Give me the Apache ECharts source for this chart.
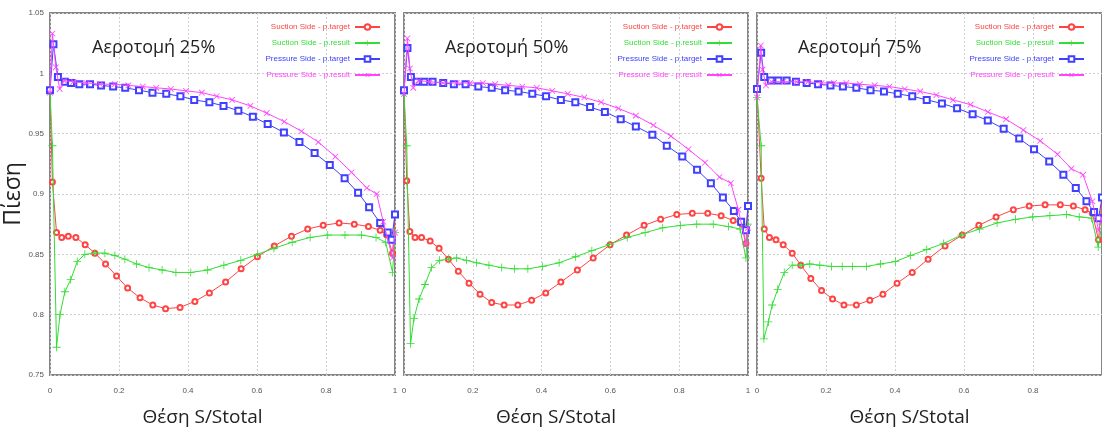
<!DOCTYPE html>
<html>
<head>
<meta charset="utf-8">
<script src="https://cdn.jsdelivr.net/npm/echarts@6/dist/echarts.min.js"></script>
<style>
  html, body { margin: 0; padding: 0; background: #fff; }
  #main { width: 1102px; height: 432px; }
</style>
</head>
<body>
<div id="main"></div>
<script>
    // labels
    var seriesNames = ['Suction Side - p.target', 'Suction Side - p.result', 'Pressure Side - p.target', 'Pressure Side - p.result'];
    var panelTitles = ['Αεροτομή 25%', 'Αεροτομή 50%', 'Αεροτομή 75%'];
    var xTicks = [0, 0.2, 0.4, 0.6, 0.8, 1];
    var yTicks = [0.75, 0.8, 0.85, 0.9, 0.95, 1, 1.05];

    // Αεροτομή 25%  [S/Stotal, πίεση]
    var suctionTarget25 = [[0,0.986],[0.007,0.910],[0.019,0.868],[0.034,0.864],[0.053,0.865],[0.075,0.864],[0.102,0.858],[0.130,0.851],[0.161,0.842],[0.193,0.832],[0.225,0.822],[0.261,0.814],[0.298,0.808],[0.335,0.805],[0.377,0.806],[0.420,0.811],[0.462,0.818],[0.509,0.827],[0.554,0.838],[0.601,0.848],[0.650,0.857],[0.700,0.865],[0.747,0.871],[0.792,0.874],[0.838,0.876],[0.882,0.875],[0.923,0.873],[0.957,0.870],[0.976,0.866],[0.993,0.851],[1,0.883]];
    var suctionResult25 = [[0,0.984],[0.007,0.940],[0.019,0.773],[0.029,0.800],[0.043,0.819],[0.060,0.829],[0.079,0.844],[0.101,0.850],[0.130,0.851],[0.159,0.851],[0.188,0.849],[0.217,0.846],[0.251,0.842],[0.287,0.839],[0.325,0.837],[0.365,0.835],[0.408,0.835],[0.457,0.837],[0.504,0.841],[0.553,0.845],[0.601,0.850],[0.649,0.855],[0.702,0.860],[0.754,0.864],[0.805,0.866],[0.855,0.866],[0.903,0.866],[0.945,0.864],[0.973,0.860],[0.993,0.835],[1,0.868]];
    var pressureTarget25 = [[0,0.986],[0.010,1.024],[0.023,0.997],[0.043,0.993],[0.061,0.992],[0.085,0.991],[0.116,0.991],[0.148,0.990],[0.183,0.989],[0.218,0.988],[0.258,0.986],[0.297,0.984],[0.337,0.983],[0.378,0.981],[0.418,0.978],[0.462,0.976],[0.503,0.973],[0.546,0.969],[0.588,0.964],[0.631,0.958],[0.678,0.951],[0.723,0.943],[0.767,0.934],[0.811,0.924],[0.854,0.913],[0.893,0.901],[0.925,0.889],[0.957,0.876],[0.979,0.868],[0.990,0.862],[1,0.883]];
    var pressureResult25 = [[0,0.984],[0.007,1.033],[0.017,1.005],[0.028,0.987],[0.041,0.994],[0.068,0.993],[0.106,0.992],[0.145,0.991],[0.188,0.991],[0.227,0.990],[0.269,0.989],[0.308,0.988],[0.350,0.987],[0.394,0.9855],[0.440,0.984],[0.483,0.981],[0.528,0.978],[0.581,0.973],[0.628,0.967],[0.679,0.960],[0.729,0.952],[0.778,0.943],[0.827,0.931],[0.874,0.918],[0.918,0.905],[0.947,0.900],[0.966,0.877],[0.993,0.847],[1,0.868]];

    // Αεροτομή 50%
    var suctionTarget50 = [[0,0.986],[0.008,0.911],[0.017,0.869],[0.032,0.864],[0.051,0.864],[0.076,0.861],[0.102,0.855],[0.129,0.846],[0.158,0.836],[0.189,0.826],[0.221,0.817],[0.255,0.810],[0.291,0.808],[0.331,0.808],[0.371,0.812],[0.412,0.818],[0.456,0.827],[0.504,0.837],[0.550,0.847],[0.599,0.858],[0.647,0.866],[0.698,0.874],[0.746,0.879],[0.793,0.883],[0.838,0.884],[0.883,0.884],[0.922,0.882],[0.957,0.878],[0.982,0.875],[0.994,0.859],[1,0.890]];
    var suctionResult50 = [[0,0.983],[0.008,0.940],[0.019,0.776],[0.029,0.797],[0.044,0.813],[0.061,0.825],[0.080,0.839],[0.103,0.845],[0.129,0.846],[0.153,0.847],[0.182,0.845],[0.211,0.843],[0.247,0.841],[0.284,0.839],[0.321,0.838],[0.360,0.838],[0.403,0.840],[0.451,0.843],[0.499,0.848],[0.546,0.853],[0.597,0.858],[0.649,0.864],[0.701,0.868],[0.752,0.872],[0.804,0.874],[0.851,0.875],[0.899,0.875],[0.943,0.873],[0.977,0.871],[0.994,0.847],[1,0.875]];
    var pressureTarget50 = [[0,0.986],[0.010,1.021],[0.020,0.997],[0.037,0.993],[0.059,0.993],[0.083,0.993],[0.114,0.992],[0.145,0.991],[0.179,0.991],[0.216,0.989],[0.255,0.988],[0.294,0.986],[0.333,0.985],[0.373,0.983],[0.413,0.981],[0.456,0.978],[0.498,0.976],[0.541,0.972],[0.584,0.968],[0.630,0.962],[0.674,0.956],[0.722,0.949],[0.764,0.940],[0.809,0.931],[0.852,0.920],[0.892,0.909],[0.927,0.897],[0.959,0.886],[0.980,0.877],[0.994,0.870],[1,0.890]];
    var pressureResult50 = [[0,0.983],[0.010,1.029],[0.017,1.004],[0.027,0.988],[0.042,0.994],[0.076,0.993],[0.114,0.992],[0.153,0.992],[0.192,0.992],[0.229,0.992],[0.265,0.991],[0.303,0.990],[0.344,0.989],[0.386,0.988],[0.431,0.9855],[0.476,0.983],[0.524,0.980],[0.573,0.976],[0.623,0.971],[0.674,0.965],[0.725,0.957],[0.776,0.948],[0.827,0.937],[0.875,0.926],[0.917,0.914],[0.950,0.909],[0.972,0.887],[0.994,0.858],[1,0.872]];

    // Αεροτομή 75%
    var suctionTarget75 = [[0,0.987],[0.012,0.913],[0.021,0.871],[0.036,0.864],[0.055,0.862],[0.076,0.858],[0.102,0.851],[0.127,0.841],[0.156,0.830],[0.187,0.820],[0.219,0.813],[0.252,0.808],[0.288,0.808],[0.327,0.812],[0.365,0.817],[0.406,0.826],[0.450,0.835],[0.496,0.846],[0.545,0.857],[0.595,0.866],[0.643,0.874],[0.693,0.881],[0.743,0.887],[0.789,0.890],[0.835,0.891],[0.879,0.891],[0.917,0.890],[0.951,0.887],[0.972,0.884],[0.990,0.862],[1,0.897]];
    var suctionResult75 = [[0,0.980],[0.012,0.940],[0.020,0.780],[0.033,0.794],[0.044,0.808],[0.060,0.821],[0.079,0.835],[0.102,0.841],[0.127,0.841],[0.153,0.842],[0.182,0.841],[0.216,0.840],[0.247,0.840],[0.277,0.840],[0.317,0.840],[0.358,0.842],[0.401,0.844],[0.445,0.849],[0.492,0.854],[0.541,0.859],[0.593,0.866],[0.645,0.871],[0.696,0.876],[0.749,0.879],[0.799,0.881],[0.849,0.882],[0.897,0.883],[0.934,0.881],[0.970,0.880],[0.989,0.856],[1,0.875]];
    var pressureTarget75 = [[0,0.987],[0.012,1.017],[0.021,0.997],[0.040,0.994],[0.062,0.994],[0.086,0.994],[0.113,0.993],[0.144,0.992],[0.177,0.991],[0.213,0.990],[0.249,0.989],[0.288,0.988],[0.329,0.986],[0.368,0.985],[0.408,0.983],[0.450,0.981],[0.492,0.978],[0.536,0.975],[0.580,0.971],[0.625,0.966],[0.669,0.961],[0.715,0.954],[0.760,0.946],[0.803,0.937],[0.847,0.927],[0.888,0.916],[0.924,0.905],[0.955,0.894],[0.977,0.885],[0.990,0.880],[1,0.897]];
    var pressureResult75 = [[0,0.980],[0.011,1.023],[0.016,1.003],[0.026,0.990],[0.042,0.993],[0.076,0.993],[0.115,0.993],[0.148,0.993],[0.187,0.992],[0.223,0.992],[0.259,0.992],[0.298,0.991],[0.341,0.990],[0.384,0.989],[0.428,0.987],[0.473,0.985],[0.520,0.982],[0.568,0.978],[0.619,0.974],[0.669,0.968],[0.722,0.962],[0.772,0.953],[0.821,0.944],[0.871,0.933],[0.911,0.921],[0.945,0.916],[0.972,0.894],[0.990,0.870],[1,0.880]];

    var panelData = [
        [suctionTarget25, suctionResult25, pressureTarget25, pressureResult25],
        [suctionTarget50, suctionResult50, pressureTarget50, pressureResult50],
        [suctionTarget75, suctionResult75, pressureTarget75, pressureResult75]
    ];

    var colors = ['#ff4444', '#33dd33', '#4040ff', '#ff44ff'];
    var plusPath = 'path://M4.5,0H5.5V4.5H10V5.5H5.5V10H4.5V5.5H0V4.5H4.5Z';
    var symbols = [
        { symbol: 'emptyCircle', size: 5, rotate: 0 },
        { symbol: plusPath, size: 8, rotate: 0 },
        { symbol: 'emptyRect', size: 6, rotate: 0 },
        { symbol: plusPath, size: 8, rotate: 45 }
    ];

    var panels = [
        { left: 50, width: 345, titleX: 91, legendRight: 716 },
        { left: 404, width: 344, titleX: 444, legendRight: 364 },
        { left: 757, width: 346, titleX: 797, legendRight: 12 }
    ];
    var plotTop = 13, plotHeight = 373;

    var myChart = echarts.init(document.getElementById('main'));

    var grids = [], xAxes = [], yAxes = [], titles = [], legends = [], series = [];
    panels.forEach(function (p, i) {
        grids.push({
            left: p.left, top: plotTop, width: p.width, height: plotHeight,
            show: true, borderColor: '#858585', borderWidth: 2, backgroundColor: 'transparent'
        });
        xAxes.push({
            gridIndex: i, type: 'value', min: 0, max: 1, interval: 0.2,
            name: 'Θέση S/Stotal', nameLocation: 'middle', nameGap: 33,
            nameTextStyle: { fontFamily: 'Open Sans', fontSize: 19, color: '#222', padding: [0, 40, 0, 0] },
            axisLine: { show: false },
            axisTick: { show: false },
            axisLabel: {
                fontFamily: 'Liberation Sans', fontSize: 8, color: '#555', margin: 12,
                showMaxLabel: i < 2,
                formatter: function (v) { return xTicks.indexOf(+v.toFixed(1)) >= 0 ? String(+v.toFixed(1)) : ''; }
            },
            splitLine: { lineStyle: { color: '#cfcfcf', type: [2, 2] } }
        });
        yAxes.push({
            gridIndex: i, type: 'value', min: 0.75, max: 1.05, interval: 0.05,
            name: i === 0 ? 'Πίεση' : '', nameLocation: 'middle', nameGap: 22,
            nameTextStyle: { fontFamily: 'Open Sans', fontSize: 23, color: '#222' },
            axisLine: { show: false },
            axisTick: { show: false },
            axisLabel: {
                show: i === 0, fontFamily: 'Liberation Sans', fontSize: 8, color: '#555', margin: 6,
                formatter: function (v) { return String(+v.toFixed(2)); }
            },
            splitLine: { lineStyle: { color: '#cfcfcf', type: [2, 2] } }
        });
        titles.push({
            text: panelTitles[i], left: p.titleX - 4, top: 34,
            textStyle: { fontFamily: 'Open Sans', fontSize: 18, fontWeight: 'normal', color: '#222' }
        });
        legends.push({
            orient: 'vertical', right: p.legendRight, top: 18, align: 'right',
            itemWidth: 25, itemHeight: 7, itemGap: 8,
            textStyle: { fontFamily: 'Liberation Sans', fontSize: 8 },
            data: seriesNames.map(function (n, k) {
                return { name: n, textStyle: { color: colors[k] } };
            })
        });
        panelData[i].forEach(function (d, k) {
            series.push({
                name: seriesNames[k], type: 'line', xAxisIndex: i, yAxisIndex: i,
                data: d, z: 2 + k,
                symbol: symbols[k].symbol, symbolSize: symbols[k].size, symbolRotate: symbols[k].rotate,
                lineStyle: { width: 1, color: colors[k] },
                itemStyle: { color: colors[k], borderWidth: k === 0 || k === 2 ? 0.8 : 0 },
                animation: false, clip: true
            });
        });
    });

    var option = {
        backgroundColor: '#fff',
        animation: false,
        title: titles,
        legend: legends,
        grid: grids,
        xAxis: xAxes,
        yAxis: yAxes,
        series: series
    };
    myChart.setOption(option);
</script>
</body>
</html>
